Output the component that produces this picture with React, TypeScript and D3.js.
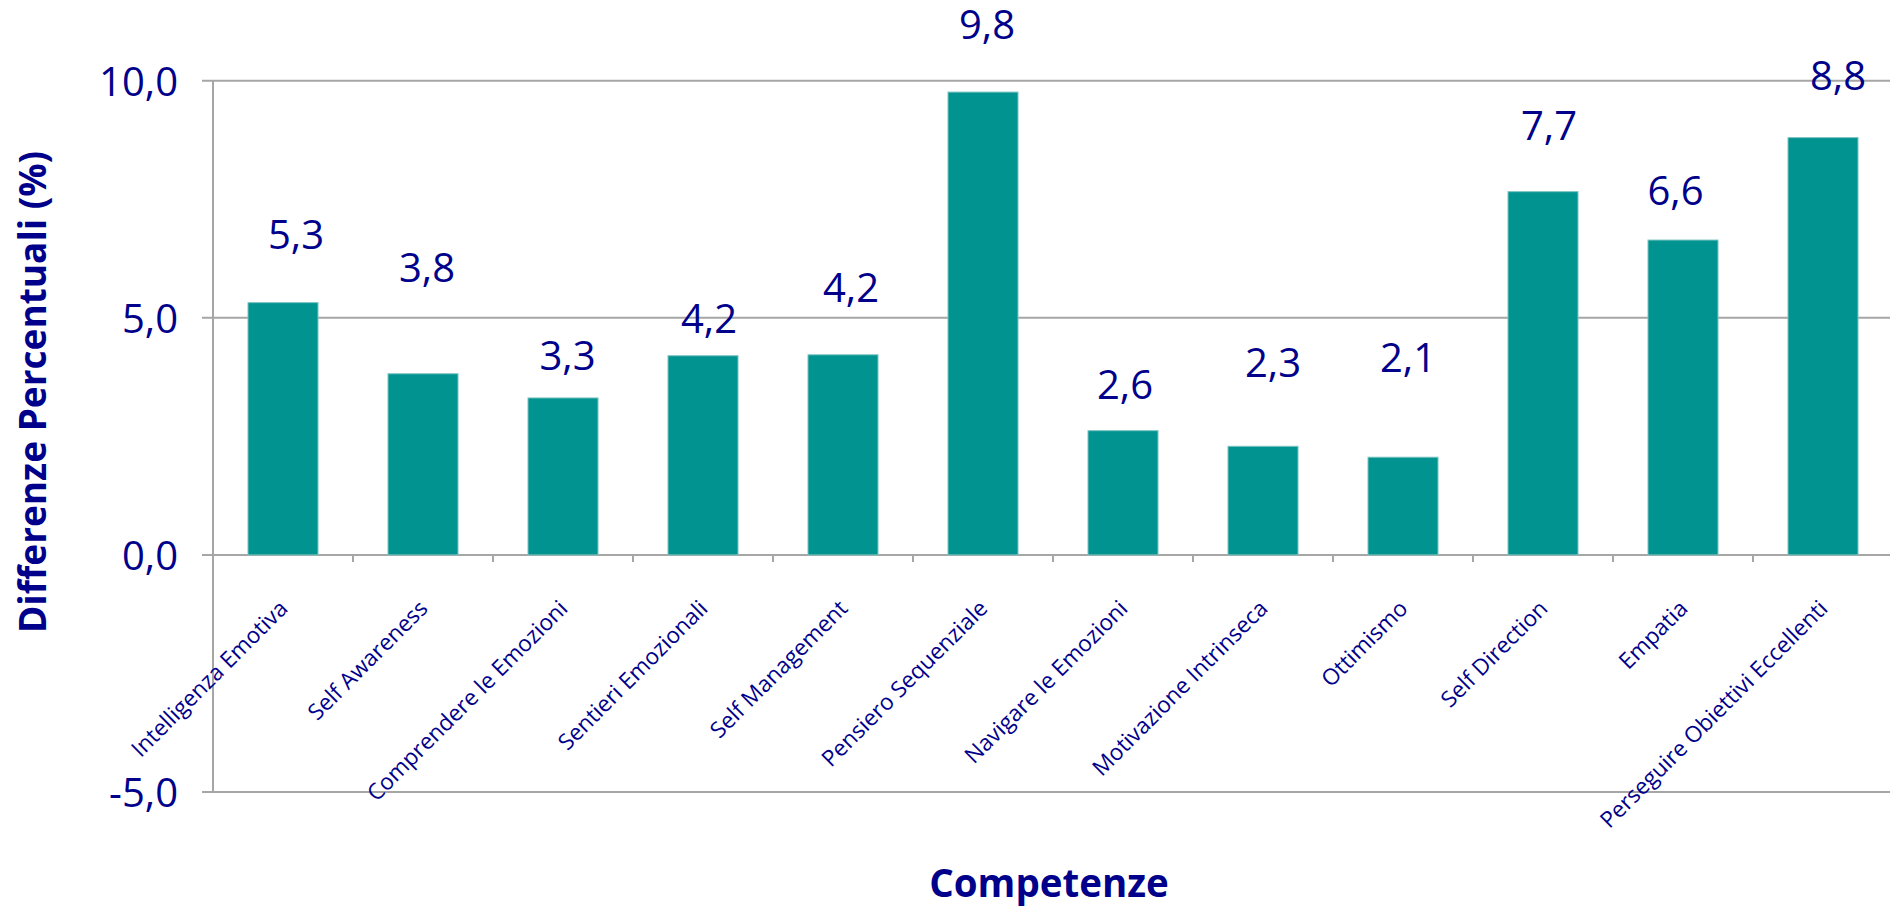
import React from "react";
import * as d3 from "d3";

const categories: string[] = [
  "Intelligenza Emotiva",
  "Self Awareness",
  "Comprendere le Emozioni",
  "Sentieri Emozionali",
  "Self Management",
  "Pensiero Sequenziale",
  "Navigare le Emozioni",
  "Motivazione Intrinseca",
  "Ottimismo",
  "Self Direction",
  "Empatia",
  "Perseguire Obiettivi Eccellenti",
];
const values: number[] = [5.32, 3.82, 3.31, 4.2, 4.22, 9.76, 2.62, 2.29, 2.06, 7.66, 6.64, 8.8];
const yTicks: number[] = [-5, 0, 5, 10];
const yTitle = "Differenze Percentuali (%)";
const xTitle = "Competenze";

// layout of the value labels (pixel offsets from bar top / band centre)
const labelDx: number[] = [13, 4, 4.5, 6, 8, 4, 2, 10, 5, 6, -7.5, 15];
const labelRise: number[] = [54, 92, 28, 23, 53, 53, 32, 69, 85, 52, 35, 48];

const W = 1890;
const H = 909;
const left = 213;
const step = 140;
const NAVY = "#00008B";
const TEAL = "#009390";
const GRID = "#a6a6a6";
const FONT = "'Open Sans', 'Noto Sans', sans-serif";

const fmt = (v: number) => d3.format(".1f")(v).replace(".", ",").replace("−", "-");

export default function App() {
  const x = d3
    .scaleBand<string>()
    .domain(categories)
    .range([left, left + step * categories.length])
    .paddingInner(0.5)
    .paddingOuter(0.25);
  const y = d3.scaleLinear().domain([-5, 10]).range([792, 80.7]);
  const gap = (x.step() - x.bandwidth()) / 2;
  const y0 = y(0);

  return (
    <svg
      width={W}
      height={H}
      style={{ position: "absolute", left: 0, top: 0, background: "#fff" }}
      fontFamily={FONT}
    >
      {/* gridlines */}
      {yTicks.map((t) => (
        <line key={"g" + t} x1={left - 11} x2={W} y1={y(t)} y2={y(t)} stroke={GRID} strokeWidth={2} />
      ))}
      {/* y axis */}
      <line x1={left} x2={left} y1={y(10)} y2={y(-5)} stroke={GRID} strokeWidth={2} />
      {/* x ticks */}
      {categories.slice(1).map((c) => (
        <line
          key={"t" + c}
          x1={(x(c) as number) - gap}
          x2={(x(c) as number) - gap}
          y1={y0}
          y2={y0 + 7}
          stroke={GRID}
          strokeWidth={2}
        />
      ))}
      {/* bars */}
      {categories.map((c, i) => (
        <rect
          key={"b" + c}
          x={x(c)}
          y={y(values[i])}
          width={x.bandwidth()}
          height={y0 - y(values[i])}
          fill={TEAL}
          stroke="#7cc4c2"
          strokeWidth={1}
        />
      ))}
      {/* y tick labels */}
      {yTicks.map((t) => (
        <text key={"yl" + t} x={178} y={y(t) + 15} textAnchor="end" fontSize={40} fill={NAVY}>
          {fmt(t)}
        </text>
      ))}
      {/* value labels */}
      {categories.map((c, i) => (
        <text
          key={"v" + c}
          x={(x(c) as number) + x.bandwidth() / 2 + labelDx[i]}
          y={y(values[i]) - labelRise[i]}
          textAnchor="middle"
          fontSize={40}
          fill={NAVY}
        >
          {fmt(values[i])}
        </text>
      ))}
      {/* category labels */}
      {categories.map((c) => {
        const cx = (x(c) as number) + x.bandwidth() / 2 + 6;
        const cy = y0 + 55;
        return (
          <text
            key={"c" + c}
            transform={`translate(${cx},${cy}) rotate(-45)`}
            textAnchor="end"
            fontSize={22.5}
            fill={NAVY}
          >
            {c}
          </text>
        );
      })}
      {/* axis titles */}
      <text x={1049} y={897} textAnchor="middle" fontSize={38.5} fontWeight="bold" fill={NAVY}>
        {xTitle}
      </text>
      <text
        transform={`translate(46,392) rotate(-90)`}
        textAnchor="middle"
        fontSize={37}
        fontWeight="bold"
        fill={NAVY}
      >
        {yTitle}
      </text>
    </svg>
  );
}
